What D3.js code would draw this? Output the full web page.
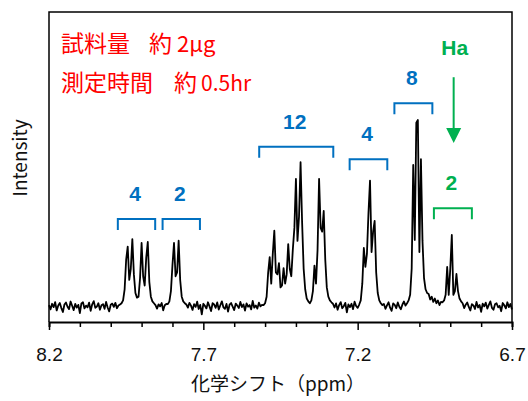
<!DOCTYPE html>
<html><head><meta charset="utf-8">
<script src="https://cdn.jsdelivr.net/npm/d3@7"></script>
<style>body{margin:0;background:#fff}svg{display:block}</style>
</head><body>
<svg id="c" width="528" height="401"></svg>
<script>
// ---- data ----
const ppmStart = 8.2, ppmEnd = 6.7, ppmStep = 0.005;
// intensity sampled every 0.005 ppm from 8.2 down to 6.7 (301 values)
const intensity = [
  // 8.200 - 7.975 baseline
  0.5,-1.8,1.2,-0.6,2.1,-2.4,0.3,1.6,-1.1,-3.2,0.8,1.9,-0.4,-1.7,2.4,0.1,-2.2,1.1,-0.9,0.6,-3.8,1.4,2.0,-1.3,0.2,-0.7,1.8,-2.6,0.9,2.6,-1.0,-0.3,1.5,-2.0,0.4,1.0,-1.5,2.2,-0.8,-2.9,0.7,1.3,-0.5,1.7,-1.2,0.3,
  // group 4H
  0.8,1.5,3,9,25,31.9,14,20,36,17,7,4.5,5,15,33.9,16,11,26,34.4,13,5,2.5,1.5,0.5,
  -1.4,0.9,-0.2,1.6,-2.3,0.4,1.1,
  // group 2H
  1,2.5,8,22,33.9,16,18,35.1,14,5,2.5,1.5,0.8,
  -0.9,1.7,0.2,-2.1,1.0,-0.5,2.3,-1.6,0.6,-4.5,1.2,0.1,-1.3,2.0,-0.2,-2.7,1.5,0.8,-1.0,1.9,-1.9,0.4,2.5,-0.7,-1.5,1.1,-3.0,0.7,1.6,-0.3,-2.2,1.3,0.2,-1.1,2.2,-0.6,0.9,-2.5,1.4,-0.4,0.5,-1.8,2.7,-0.9,0.3,-1.4,1.8,-0.2,0.6,
  // group 12H
  0.5,1.5,5,18,26.3,12,28,40.5,18,17,23.1,10,11,20.4,12,17,33.3,20,16,30.6,42,68.4,35,48,77.3,45,20,9,4,2.5,1.5,3,8,21.7,12,30,68.4,42,40,51.1,25,10,5,3,2,1.2,
  -0.8,1.4,-2.0,0.5,2.1,-1.2,-0.1,1.7,-3.4,0.9,-0.6,1.2,-1.7,2.3,0.0,-1.0,
  // group 4H
  0.8,3,12,31.2,21,28,50,67.4,29,40,45.7,18,7,3,1.5,0.5,
  1.1,-1.5,0.3,2.0,-0.9,-2.6,1.4,0.6,-1.2,1.9,-0.4,-1.8,0.8,2.4,0.2,
  // group 8H
  1.5,3,6,20,75.8,35.5,98.5,100,29,78.9,35,15,9,7,6.5,3.5,5,2.2,4,1.5,3,
  0.5,2.2,
  // group 2H (Ha)
  2,3,6,21,6,20,38.2,6,8,17.2,8,4,2.5,1.5,
  -1.1,0.7,1.9,-0.5,-2.4,1.0,0.3,-1.6,2.2,-0.8,0.5,-3.1,1.3,-0.2,1.8,-1.4,0.6,2.5,-1.0,-2.0,0.9,1.5,-0.7,0.1,-2.8,1.6,0.4,-1.3,2.0,-0.6,1.1,-1.9
];
const xTickValues = [8.2,8.1,8.0,7.9,7.8,7.7,7.6,7.5,7.4,7.3,7.2,7.1,7.0,6.9,6.8,6.7];
const xTickLabels = ["8.2","7.7","7.2","6.7"];
const xTitle = "化学シフト（ppm）";
const yTitle = "Intensity";
// integration groups: label, ppm from, ppm to, bracket level (intensity units)
const groupLabels = ["4","2","12","4","8","2"];
const groupFrom   = [7.977, 7.832, 7.519, 7.226, 7.081, 6.953];
const groupTo     = [7.856, 7.711, 7.279, 7.104, 6.958, 6.830];
const groupLevel  = [46.8, 46.8, 85.6, 78.9, 109, 52.5];
const arrowLabel = "Ha", arrowPpm = 6.889, arrowFrom = 123, arrowTo = 87.6;
const noteLine1 = ["試料量", "約", "2μg"];
const noteLine2 = ["測定時間", "約", "0.5hr"];

// ---- drawing ----
const svg = d3.select("#c");
const L = 49, R = 512, T = 12, B = 322;
const x = d3.scaleLinear().domain([ppmStart, ppmEnd]).range([L, R]);
const y = d3.scaleLinear().domain([0, 100]).range([306, 120]);
const blue = "#0070C0", green = "#00B050", red = "#FF0000";
const groupColors = groupLabels.map((d, i) => i === groupLabels.length - 1 ? green : blue);
const cjk = "'Noto Sans CJK JP', 'Noto Sans', sans-serif";
const latin = "'Liberation Sans', Arial, sans-serif";

// frame
svg.append("path")
  .attr("d", `M${L},${B}V${T}H${R}V${B}`)
  .attr("fill", "none").attr("stroke", "#000").attr("stroke-width", 1.5);

// spectrum
const line = d3.line()
  .x((d, i) => x(ppmStart - i * ppmStep))
  .y(d => y(d));
svg.append("path").datum(intensity)
  .attr("d", line)
  .attr("fill", "none").attr("stroke", "#000").attr("stroke-width", 1.8)
  .attr("stroke-linejoin", "round");

// axis
const ax = svg.append("g").attr("transform", `translate(0,${B})`)
  .call(d3.axisBottom(x).tickValues(xTickValues).tickSizeOuter(0).tickSize(5)
    .tickFormat(d => { const s = d.toFixed(1); return xTickLabels.includes(s) ? s : ""; }));
ax.select(".domain").attr("stroke", "#000").attr("stroke-width", 2);
ax.selectAll(".tick line").attr("stroke", "#000").attr("stroke-width", 1.5)
  .attr("y2", d => xTickLabels.includes(d.toFixed(1)) ? 8 : 5);
ax.selectAll(".tick text").attr("y", 38.5).attr("dy", 0)
  .attr("font-size", 19).attr("font-family", latin).attr("fill", "#111");

// axis titles
svg.append("text").attr("x", 278).attr("y", 391).attr("text-anchor", "middle")
  .attr("font-family", cjk).attr("font-size", 19).attr("fill", "#111").text(xTitle);
svg.append("text").attr("transform", "translate(27,158) rotate(-90)")
  .attr("text-anchor", "middle").attr("font-family", cjk).attr("font-size", 19)
  .attr("fill", "#111").text(yTitle);

// brackets + labels
groupLabels.forEach((lab, i) => {
  const x1 = x(groupFrom[i]), x2 = x(groupTo[i]), yt = y(groupLevel[i]);
  svg.append("path")
    .attr("d", `M${x1},${yt + 11}V${yt}H${x2}V${yt + 11}`)
    .attr("fill", "none").attr("stroke", groupColors[i]).attr("stroke-width", 2);
  svg.append("text").attr("x", (x1 + x2) / 2 - 1.5).attr("y", yt - 18)
    .attr("text-anchor", "middle").attr("font-family", latin).attr("font-weight", 700)
    .attr("font-size", 21).attr("fill", groupColors[i]).text(lab);
});

// Ha arrow
const ax0 = x(arrowPpm), ay1 = y(arrowFrom), ay2 = y(arrowTo);
svg.append("line").attr("x1", ax0).attr("x2", ax0).attr("y1", ay1).attr("y2", ay2 - 12)
  .attr("stroke", green).attr("stroke-width", 2);
svg.append("path").attr("d", `M${ax0 - 7.5},${ay2 - 15}L${ax0 + 7.5},${ay2 - 15}L${ax0},${ay2}Z`)
  .attr("fill", green);
svg.append("text").attr("x", ax0 + 1).attr("y", ay1 - 22).attr("text-anchor", "middle")
  .attr("font-family", latin).attr("font-weight", 700).attr("font-size", 21)
  .attr("fill", green).text(arrowLabel);

// red notes
function note(parts, yb, xs, sizes) {
  const t = svg.append("text").attr("y", yb).attr("font-family", cjk).attr("fill", red);
  parts.forEach((p, i) => t.append("tspan").attr("x", xs[i]).attr("font-size", sizes[i]).text(p));
}
note(noteLine1, 52, [61, 149, 177], [23, 23, 22]);
note(noteLine2, 91, [61, 174, 201], [23, 23, 21]);
</script>
</body></html>
